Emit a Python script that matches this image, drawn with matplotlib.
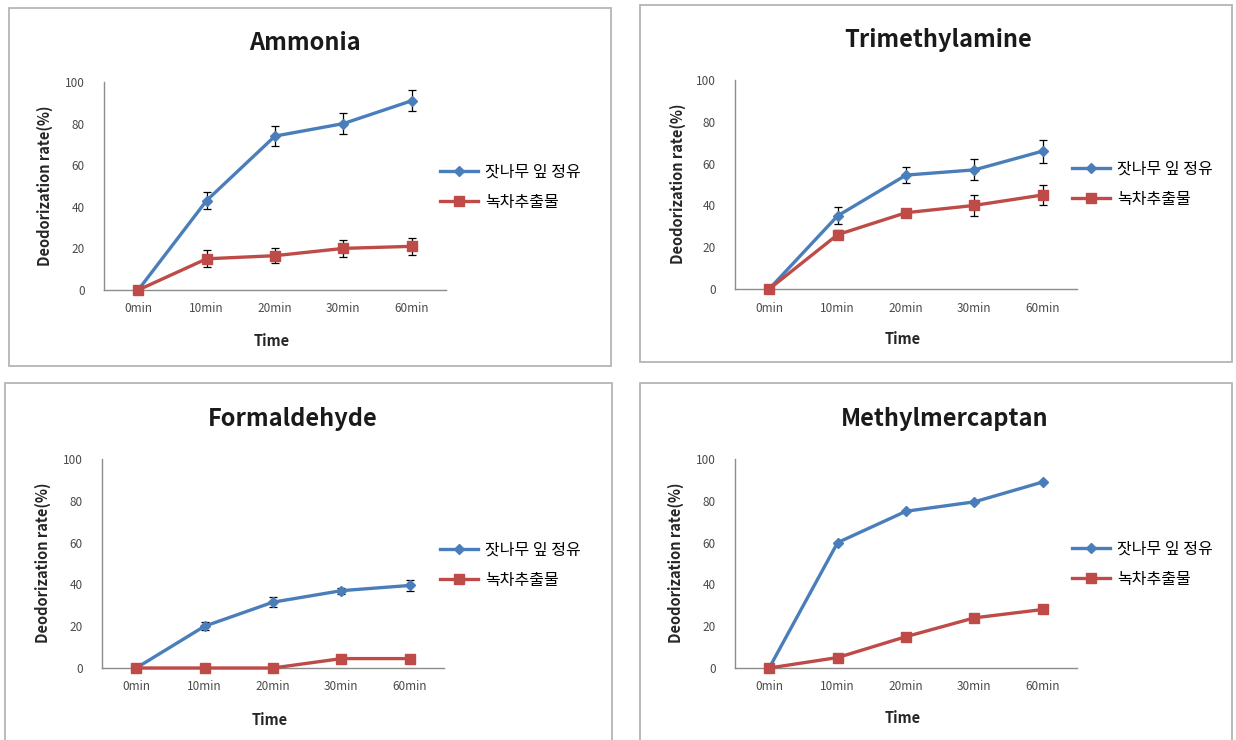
import matplotlib
matplotlib.use("Agg")
import matplotlib.pyplot as plt
from matplotlib.patches import Rectangle
from matplotlib.lines import Line2D

plt.rcParams['font.family'] = ['Noto Sans CJK KR', 'DejaVu Sans']

categories = ['0min', '10min', '20min', '30min', '60min']
series_names = ['잣나무 잎 정유', '녹차추출물']
titles = ['Ammonia', 'Trimethylamine', 'Formaldehyde', 'Methylmercaptan']

ammonia_pine = [0, 43, 74, 80, 91]
ammonia_pine_err = [2, 4, 5, 5, 5]
ammonia_tea = [0, 15, 16.5, 20, 21]
ammonia_tea_err = [2, 4, 3.5, 4, 4]

tma_pine = [0, 35, 54.5, 57, 66]
tma_pine_err = [1, 4, 4, 5, 5.5]
tma_tea = [0, 26, 36.5, 40, 45]
tma_tea_err = [1, 2, 1.5, 5, 5]

form_pine = [0, 20, 31.5, 37, 39.5]
form_pine_err = [0.5, 2, 2.5, 1.5, 2.5]
form_tea = [0, 0, 0, 4.5, 4.5]
form_tea_err = [0, 0, 0, 0.5, 0.5]

mm_pine = [0, 60, 75, 79.5, 89]
mm_tea = [0, 5, 15, 24, 28]

panels = [
    (ammonia_pine, ammonia_pine_err, ammonia_tea, ammonia_tea_err),
    (tma_pine, tma_pine_err, tma_tea, tma_tea_err),
    (form_pine, form_pine_err, form_tea, form_tea_err),
    (mm_pine, None, mm_tea, None),
]

W, H = 1236, 740
fig = plt.figure(figsize=(W / 100, H / 100), dpi=100)
fig.patch.set_facecolor('white')

def fx(px):
    return px / W

def fy(py):
    return 1 - py / H

axes_px = [
    (104, 446, 82, 290),
    (735, 1077, 80, 289),
    (102, 444, 459, 668),
    (735, 1077, 459, 668),
]
boxes_px = [
    (9, 8, 611, 366),
    (640, 5, 1232, 362),
    (5, 383, 612, 760),
    (640, 383, 1232, 760),
]
title_pos = [(305, 43), (938, 40), (293, 419), (945, 419)]
ylabel_pos = [(45, 186), (678, 184), (43, 563), (676, 563)]
xlabel_pos = [(272, 341), (903, 339), (270, 720), (903, 718)]
legend_pos = [(440, 187), (1072, 184), (440, 565), (1072, 564)]

blue = '#4A7EBB'
red = '#BE4B48'

for b in boxes_px:
    l, t, r, bt = b
    fig.patches.append(Rectangle((fx(l), fy(bt)), fx(r - l), (bt - t) / H,
                                 transform=fig.transFigure, fill=False,
                                 edgecolor='#B5B5B5', linewidth=1.3))

legend_handles = [
    Line2D([], [], color=blue, lw=2.4, marker='D', ms=5, mfc=blue, mec=blue),
    Line2D([], [], color=red, lw=2.4, marker='s', ms=7, mfc=red, mec=red),
]

x = list(range(len(categories)))
for i, (pine, pine_err, tea, tea_err) in enumerate(panels):
    l, r, t, b = axes_px[i]
    ax = fig.add_axes([fx(l), fy(b), fx(r - l), (b - t) / H])
    ax.set_facecolor('none')
    ax.errorbar(x, pine, yerr=pine_err, color=blue, lw=2.4, marker='D', ms=5,
                mfc=blue, mec=blue, ecolor='black', elinewidth=0.9, capsize=3,
                capthick=0.9, clip_on=False, zorder=3)
    ax.errorbar(x, tea, yerr=tea_err, color=red, lw=2.4, marker='s', ms=7.5,
                mfc=red, mec=red, ecolor='black', elinewidth=0.9, capsize=3,
                capthick=0.9, clip_on=False, zorder=3)
    ax.set_xlim(-0.5, 4.5)
    ax.set_ylim(0, 100)
    ax.set_yticks([0, 20, 40, 60, 80, 100])
    ax.set_xticks(x)
    ax.set_xticklabels(categories)
    for s in ['top', 'right']:
        ax.spines[s].set_visible(False)
    for s in ['left', 'bottom']:
        ax.spines[s].set_color('#8C8C8C')
        ax.spines[s].set_linewidth(1.0)
    ax.tick_params(length=0, labelsize=8.5, labelcolor='#4A4A4A', pad=9)
    ax.tick_params(axis='y', pad=14)

    lx, ly = legend_pos[i]
    ax.legend(legend_handles, series_names, loc='center left',
              bbox_to_anchor=(fx(lx), fy(ly)),
              bbox_transform=fig.transFigure, frameon=False, fontsize=11.5,
              handlelength=2.4, handletextpad=0.4, labelspacing=0.85,
              borderpad=0, borderaxespad=0)

    tx, ty = title_pos[i]
    fig.text(fx(tx), fy(ty), titles[i], ha='center', va='center',
             fontsize=17, fontweight='bold', color='#1A1A1A')
    yx, yy = ylabel_pos[i]
    fig.text(fx(yx), fy(yy), 'Deodorization rate(%)', ha='center', va='center',
             rotation=90, fontsize=10.5, fontweight='bold', color='#262626')
    xx, xy = xlabel_pos[i]
    fig.text(fx(xx), fy(xy), 'Time', ha='center', va='center',
             fontsize=10.5, fontweight='bold', color='#262626')

fig.savefig('out.png', dpi=100)
